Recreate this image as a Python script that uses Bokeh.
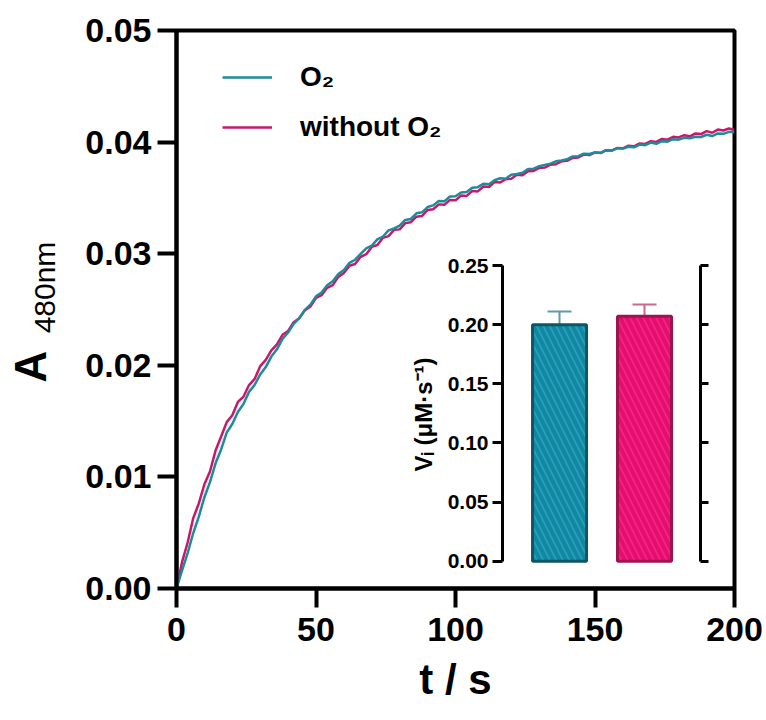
import math
from bokeh.plotting import figure
from bokeh.models import (Range1d, FixedTicker, NumeralTickFormatter, Legend, LegendItem,
                          Label, Whisker, ColumnDataSource, LinearAxis, TeeHead,
                          CustomJSTickFormatter)
from bokeh.embed import file_html
from bokeh.resources import INLINE

# ---------------- data ----------------
time_s = list(range(0, 201, 2))

a480_o2 = [
    0.00000, 0.00163, 0.00318, 0.00497, 0.00644, 0.00818, 0.00953, 0.01122, 0.01246, 0.01397,
    0.01474, 0.01581, 0.01653, 0.01762, 0.01824, 0.01918, 0.01984, 0.02078, 0.02143, 0.02236,
    0.02294, 0.02371, 0.02422, 0.02497, 0.02543, 0.02618, 0.02652, 0.02718, 0.02754, 0.02817,
    0.02853, 0.02918, 0.02946, 0.02998, 0.03047, 0.03072, 0.03128, 0.03154, 0.03209, 0.03226,
    0.03251, 0.03302, 0.03311, 0.03362, 0.03371, 0.03418, 0.03433, 0.03472, 0.03469, 0.03512,
    0.03514, 0.03548, 0.03552, 0.03591, 0.03596, 0.03627, 0.03622, 0.03658, 0.03676, 0.03672,
    0.03708, 0.03714, 0.03726, 0.03759, 0.03762, 0.03784, 0.03796, 0.03807, 0.03828, 0.03836,
    0.03846, 0.03872, 0.03874, 0.03896, 0.03893, 0.03907, 0.03904, 0.03928, 0.03924, 0.03946,
    0.03942, 0.03958, 0.03953, 0.03978, 0.03972, 0.03996, 0.03984, 0.04008, 0.04004, 0.04026,
    0.04022, 0.04038, 0.04034, 0.04048, 0.04046, 0.04066, 0.04054, 0.04078, 0.04074, 0.04092,
    0.04088,
]

a480_no_o2 = [
    0.00000, 0.00238, 0.00412, 0.00631, 0.00762, 0.00934, 0.01048, 0.01236, 0.01362, 0.01491,
    0.01553, 0.01672, 0.01718, 0.01823, 0.01878, 0.01992, 0.02048, 0.02134, 0.02188, 0.02273,
    0.02308, 0.02386, 0.02421, 0.02492, 0.02527, 0.02603, 0.02628, 0.02694, 0.02718, 0.02792,
    0.02828, 0.02892, 0.02908, 0.02972, 0.02996, 0.03061, 0.03078, 0.03142, 0.03158, 0.03214,
    0.03218, 0.03274, 0.03282, 0.03332, 0.03338, 0.03392, 0.03398, 0.03442, 0.03438, 0.03482,
    0.03478, 0.03522, 0.03518, 0.03562, 0.03558, 0.03602, 0.03598, 0.03642, 0.03638, 0.03668,
    0.03672, 0.03708, 0.03702, 0.03738, 0.03742, 0.03768, 0.03772, 0.03798, 0.03802, 0.03828,
    0.03832, 0.03858, 0.03862, 0.03888, 0.03884, 0.03908, 0.03902, 0.03928, 0.03924, 0.03948,
    0.03944, 0.03968, 0.03962, 0.03988, 0.03984, 0.04008, 0.04002, 0.04028, 0.04022, 0.04048,
    0.04042, 0.04062, 0.04052, 0.04078, 0.04072, 0.04098, 0.04084, 0.04112, 0.04104, 0.04122,
    0.04108,
]

x_ticks = [0, 50, 100, 150, 200]
y_ticks = [0.00, 0.01, 0.02, 0.03, 0.04, 0.05]

bar_conditions = ["O₂", "without O₂"]
bar_positions = [1, 2]
vi_values = [0.200, 0.207]
vi_errors = [0.011, 0.010]
inset_y_ticks = [0.00, 0.05, 0.10, 0.15, 0.20, 0.25]

TEAL = "#1f8a9c"
MAGENTA = "#c8186a"
FONT = "Liberation Sans"

# ---------------- main figure ----------------
p = figure(width=766, height=720, x_range=Range1d(0, 200), y_range=Range1d(0, 0.05),
           output_backend="svg", toolbar_location=None,
           min_border_left=176, min_border_right=32, min_border_top=30, min_border_bottom=132)
p.background_fill_color = "white"
p.border_fill_color = "white"
p.grid.visible = False
p.outline_line_color = "black"
p.outline_line_width = 4

r_mag = p.line(time_s, a480_no_o2, line_color=MAGENTA, line_width=2.5)
r_teal = p.line(time_s, a480_o2, line_color=TEAL, line_width=2.5)

for ax in (p.xaxis[0], p.yaxis[0]):
    ax.axis_line_width = 4
    ax.major_tick_line_width = 4
    ax.major_tick_out = 19
    ax.major_tick_in = 0
    ax.minor_tick_line_color = None
    ax.major_label_text_font = FONT
    ax.major_label_text_font_style = "bold"
    ax.major_label_text_font_size = "34px"
    ax.major_label_text_color = "black"

p.xaxis.ticker = FixedTicker(ticks=x_ticks)
p.yaxis.ticker = FixedTicker(ticks=y_ticks)
p.yaxis.formatter = NumeralTickFormatter(format="0.00")
p.xaxis.major_label_standoff = 10
p.yaxis.major_label_standoff = 6

p.xaxis.axis_label = "t / s"
p.xaxis.axis_label_text_font = FONT
p.xaxis.axis_label_text_font_style = "bold"
p.xaxis.axis_label_text_font_size = "42px"
p.xaxis.axis_label_text_color = "black"
p.xaxis.axis_label_standoff = 12

legend = Legend(items=[LegendItem(label="O₂", renderers=[r_teal]),
                       LegendItem(label="without O₂", renderers=[r_mag])],
                location=(46, 441), margin=0, padding=0, spacing=10,
                label_height=40, glyph_height=40, glyph_width=50, label_standoff=28,
                label_text_font=FONT, label_text_font_style="bold",
                label_text_font_size="28px", label_text_color="black",
                background_fill_alpha=0, border_line_color=None)
p.add_layout(legend)

# ---------------- y-axis title overlay (A with subscript 480nm) ----------------
lab = figure(width=80, height=720, x_range=Range1d(0, 80), y_range=Range1d(0, 720),
             output_backend="svg", toolbar_location=None,
             x_axis_location=None, y_axis_location=None, min_border=0)
lab.background_fill_alpha = 0
lab.border_fill_alpha = 0
lab.outline_line_color = None
lab.grid.visible = False
lab.add_layout(Label(x=30, y=354, text="A", angle=math.pi / 2,
                     text_align="center", text_baseline="middle",
                     text_font=FONT, text_font_style="bold", text_font_size="44px",
                     text_color="black"))
lab.add_layout(Label(x=44, y=433, text="480nm", angle=math.pi / 2,
                     text_align="center", text_baseline="middle",
                     text_font=FONT, text_font_size="30px", text_color="black"))
lab.styles = {"position": "absolute", "left": "0px", "top": "0px"}

# ---------------- inset figure ----------------
q = figure(width=318, height=322, x_range=Range1d(0.329, 2.659), y_range=Range1d(-0.002, 0.25),
           output_backend="svg", toolbar_location=None, x_axis_location=None,
           min_border_left=100, min_border_right=20, min_border_top=12, min_border_bottom=12)
q.background_fill_alpha = 0
q.border_fill_alpha = 0
q.outline_line_color = None
q.grid.visible = False

src = ColumnDataSource(dict(x=bar_positions, top=vi_values,
                            fill=["#1fa2bf", "#ff1c84"], hatch=["#15869f", "#e0106f"],
                            edge=["#0e5566", "#9e1450"], name=bar_conditions))

for i, col in enumerate(["#5f9aa6", "#c86a90"]):
    s = ColumnDataSource(dict(x=[bar_positions[i]], lo=[vi_values[i]],
                              hi=[vi_values[i] + vi_errors[i]]))
    w = Whisker(base="x", lower="lo", upper="hi", source=s, dimension="height",
                line_color=col, line_width=2,
                upper_head=TeeHead(size=24, line_color=col, line_width=2), lower_head=None)
    q.add_layout(w)

q.vbar(x="x", top="top", bottom=0, width=0.635, source=src,
       fill_color="fill", line_color="edge", line_width=3,
       hatch_pattern="\\", hatch_color="hatch", hatch_weight=4, hatch_scale=13)

ya = q.yaxis[0]
ya.ticker = FixedTicker(ticks=inset_y_ticks)
ya.formatter = NumeralTickFormatter(format="0.00")
ya.bounds = (0, 0.25)
ya.axis_line_width = 3
ya.major_tick_line_width = 3
ya.major_tick_out = 10
ya.major_tick_in = 0
ya.minor_tick_line_color = None
ya.major_label_text_font = FONT
ya.major_label_text_font_style = "bold"
ya.major_label_text_font_size = "21px"
ya.major_label_text_color = "black"
ya.major_label_standoff = 4
ya.axis_label = "Vᵢ (μM·s⁻¹)"
ya.axis_label_text_font = FONT
ya.axis_label_text_font_style = "bold"
ya.axis_label_text_font_size = "24px"
ya.axis_label_text_color = "black"
ya.axis_label_standoff = 8

ra = LinearAxis(ticker=FixedTicker(ticks=inset_y_ticks),
                formatter=CustomJSTickFormatter(code="return ''"),
                bounds=(0, 0.25), axis_line_width=3, major_tick_line_width=3,
                major_tick_out=8, major_tick_in=0, minor_tick_line_color=None,
                major_label_standoff=0)
q.add_layout(ra, "right")

q.styles = {"position": "absolute", "left": "402px", "top": "253px"}

open("out.html", "w").write(file_html([p, lab, q], INLINE))
